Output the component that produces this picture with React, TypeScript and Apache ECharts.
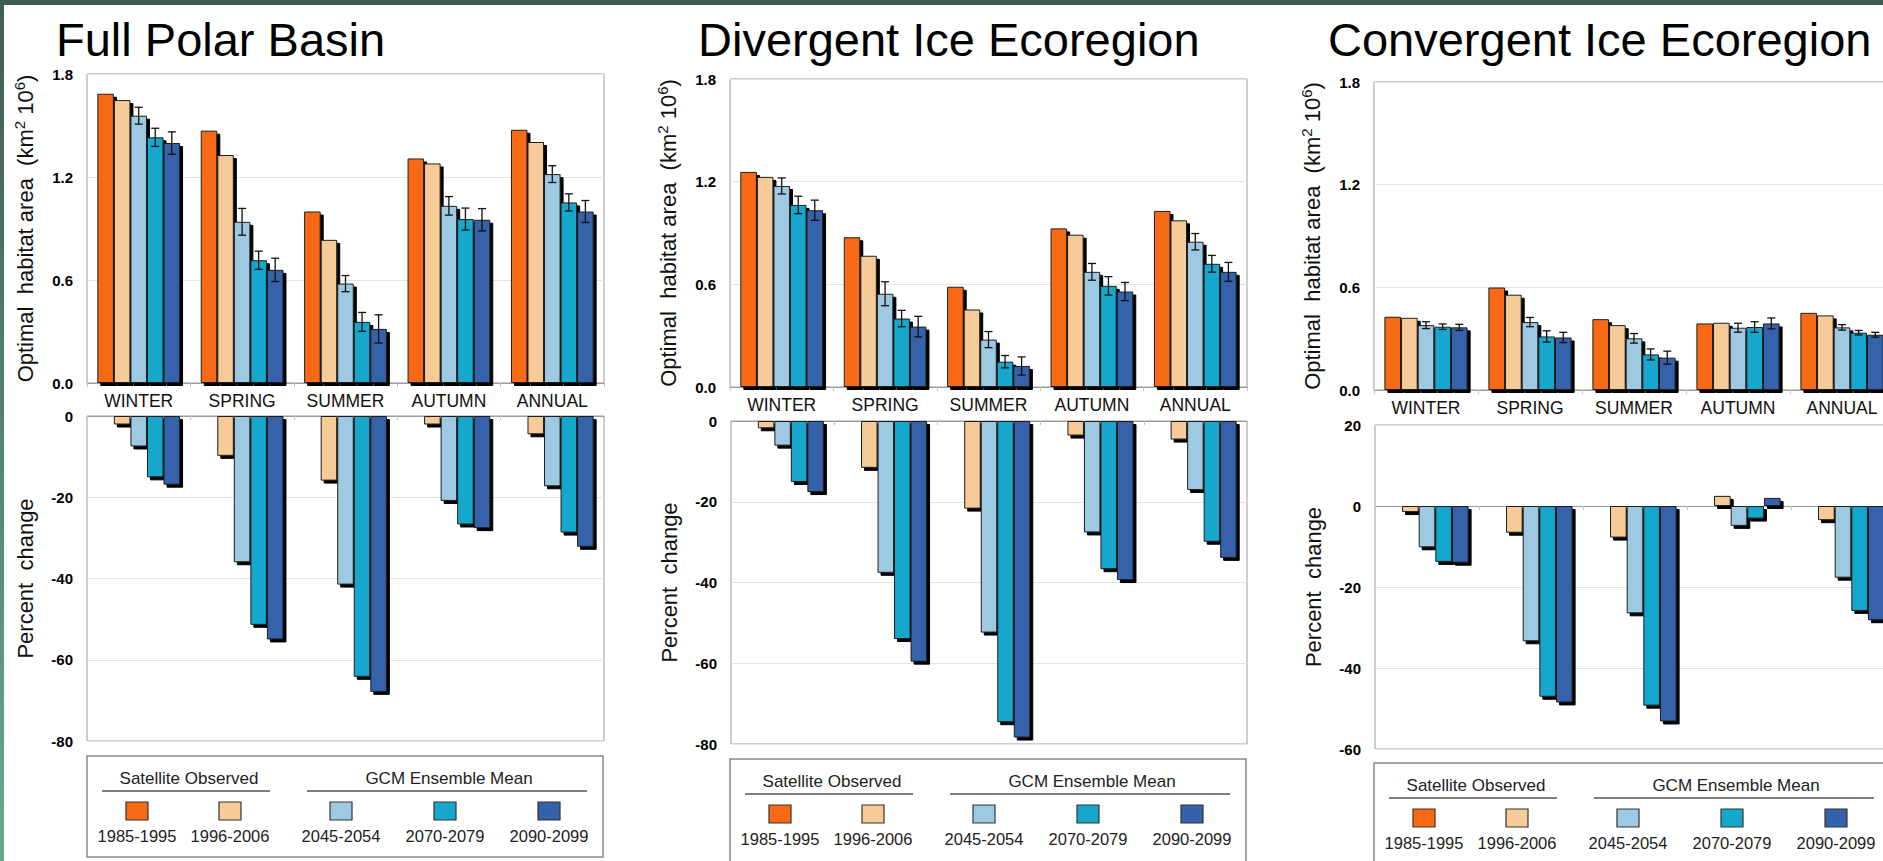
import React, { useEffect, useRef } from 'react';
import * as echarts from 'echarts';

const FONT = '"Liberation Sans", Arial, Helvetica, sans-serif';

const categories = ['WINTER', 'SPRING', 'SUMMER', 'AUTUMN', 'ANNUAL'];
const periods = ['1985-1995', '1996-2006', '2045-2054', '2070-2079', '2090-2099'];
const colors = ['#F96A12', '#F7CB98', '#9DCAE2', '#15A8CC', '#3462AA'];
const groupLabels = ['Satellite Observed', 'GCM Ensemble Mean'];
const titles = ['Full Polar Basin', 'Divergent Ice Ecoregion', 'Convergent Ice Ecoregion'];
const areaTicks = { min: 0, max: 1.8, interval: 0.6 };

// Full Polar Basin
const fpbArea = [
  [1.685, 1.470, 0.999, 1.308, 1.475],
  [1.648, 1.328, 0.834, 1.279, 1.404],
  [1.557, 0.939, 0.579, 1.032, 1.217],
  [1.431, 0.715, 0.356, 0.955, 1.052],
  [1.398, 0.659, 0.315, 0.951, 0.999],
];
const fpbErr = [
  [0.049, 0.078, 0.047, 0.054, 0.049],
  [0.053, 0.053, 0.055, 0.064, 0.050],
  [0.065, 0.068, 0.082, 0.065, 0.064],
];
const fpbPct = [
  [0, 0, 0, 0, 0],
  [-2.1, -9.8, -15.9, -2.1, -4.5],
  [-7.5, -36.0, -41.5, -20.9, -17.3],
  [-15.1, -51.4, -64.2, -26.7, -28.7],
  [-16.9, -55.0, -67.9, -27.6, -32.2],
];

// Divergent Ice Ecoregion
const divArea = [
  [1.257, 0.875, 0.586, 0.927, 1.029],
  [1.228, 0.767, 0.453, 0.890, 0.974],
  [1.175, 0.545, 0.277, 0.673, 0.849],
  [1.064, 0.400, 0.148, 0.591, 0.720],
  [1.033, 0.353, 0.123, 0.558, 0.673],
];
const divErr = [
  [0.047, 0.070, 0.047, 0.049, 0.048],
  [0.051, 0.048, 0.036, 0.054, 0.049],
  [0.059, 0.060, 0.053, 0.053, 0.055],
];
const divPct = [
  [0, 0, 0, 0, 0],
  [-1.8, -11.6, -21.7, -3.6, -4.6],
  [-6.1, -37.6, -52.4, -27.6, -17.1],
  [-15.1, -54.0, -74.6, -36.7, -29.9],
  [-17.6, -59.6, -78.4, -39.4, -33.9],
];

// Convergent Ice Ecoregion
const convArea = [
  [0.428, 0.599, 0.414, 0.389, 0.451],
  [0.422, 0.557, 0.379, 0.393, 0.436],
  [0.379, 0.397, 0.302, 0.364, 0.366],
  [0.370, 0.313, 0.208, 0.368, 0.335],
  [0.366, 0.307, 0.189, 0.389, 0.323],
];
const convErr = [
  [0.020, 0.027, 0.028, 0.026, 0.016],
  [0.016, 0.033, 0.032, 0.031, 0.013],
  [0.018, 0.030, 0.038, 0.032, 0.014],
];
const convPct = [
  [0, 0, 0, 0, 0],
  [-1.5, -6.6, -7.8, 2.5, -3.5],
  [-10.2, -33.4, -26.5, -4.9, -17.7],
  [-13.8, -47.1, -49.3, -3.1, -25.9],
  [-14.0, -48.5, -53.2, 2.0, -28.2],
];

const pctTicks = [
  { min: -80, max: 0, interval: 20 },
  { min: -80, max: 0, interval: 20 },
  { min: -60, max: 20, interval: 20 },
];

const panelData = [
  { area: fpbArea, err: fpbErr, pct: fpbPct },
  { area: divArea, err: divErr, pct: divPct },
  { area: convArea, err: convErr, pct: convPct },
];

// layout (pixels)
const layout = [
  { titleX: 56, top: [87, 74, 517, 309], bot: [87, 416, 517, 325], legend: [87, 756, 516, 101] },
  { titleX: 698, top: [730, 79, 517, 308], bot: [731, 421, 516, 323], legend: [730, 759, 516, 130] },
  { titleX: 1328, top: [1374, 82, 520, 308], bot: [1375, 425, 520, 324], legend: [1374, 763, 540, 130] },
];

function buildOption() {
  const grid: any[] = [];
  const xAxis: any[] = [];
  const yAxis: any[] = [];
  const series: any[] = [];
  const graphic: any[] = [];

  const nameRich = {
    a: { fontSize: 22, fontFamily: FONT, color: '#111', lineHeight: 26 },
    s: { fontSize: 15, fontFamily: FONT, color: '#111', lineHeight: 14, verticalAlign: 'top' },
  };

  layout.forEach((lay, p) => {
    const d = panelData[p];
    [lay.top, lay.bot].forEach((r, k) => {
      grid.push({
        left: r[0], top: r[1], width: r[2], height: r[3],
        show: true, borderColor: '#9c9c9c', borderWidth: 1, backgroundColor: '#fff',
        containLabel: false, outerBoundsMode: 'none',
      });
      const gi = p * 2 + k;
      xAxis.push({
        type: 'category', gridIndex: gi, data: categories,
        axisLine: { show: true, onZero: true, lineStyle: { color: '#9c9c9c', width: 1 } },
        axisTick: { show: true, length: 4, lineStyle: { color: '#c4c4c4' } },
        axisLabel: { show: k === 0, fontSize: 17.5, color: '#111', fontFamily: FONT, margin: 9, interval: 0 },
        splitLine: { show: false },
      });
      const t = k === 0 ? areaTicks : pctTicks[p];
      yAxis.push({
        type: 'value', gridIndex: gi, min: t.min, max: t.max, interval: t.interval,
        axisLine: { show: false }, axisTick: { show: false },
        axisLabel: {
          fontSize: 15, fontWeight: 'bold', color: '#000', fontFamily: FONT, margin: 14,
          formatter: (v: number) => (k === 0 ? v.toFixed(1) : String(v)),
        },
        splitLine: { show: true, lineStyle: { color: '#e4e4e4', width: 1 } },
        name: k === 0 ? '{a|Optimal  habitat area  (km}{s|2}{a| 10}{s|6}{a|)}' : '{a|Percent  change}',
        nameLocation: 'middle', nameRotate: 90, nameGap: 49,
        nameTextStyle: { rich: nameRich },
        nameMoveOverlap: false,
      });
      const vals = k === 0 ? d.area : d.pct;
      vals.forEach((row, s) => {
        series.push({
          type: 'bar', xAxisIndex: gi, yAxisIndex: gi, name: periods[s], data: row,
          barGap: '0%', barCategoryGap: '20%', silent: true,
          itemStyle: {
            color: colors[s], borderColor: '#1e1e1e', borderWidth: 1,
            shadowColor: '#000', shadowOffsetX: 3, shadowOffsetY: 3, shadowBlur: 0,
          },
        });
      });
      if (k === 0) {
        const errData: number[][] = [];
        d.err.forEach((row, j) => {
          row.forEach((e, c) => {
            errData.push([c, d.area[j + 2][c], e, j + 2]);
          });
        });
        series.push({
          type: 'custom', xAxisIndex: gi, yAxisIndex: gi, data: errData,
          encode: { x: 0, y: 1 }, z: 10, silent: true, clip: false,
          renderItem: (params: any, api: any) => {
            const c = api.value(0);
            const v = api.value(1);
            const e = api.value(2);
            const s = api.value(3);
            const mid = api.coord([c, v]);
            const hi = api.coord([c, v + e]);
            const lo = api.coord([c, v - e]);
            const band = api.size([1, 0])[0];
            const bw = (band * 0.8) / 5;
            const x = mid[0] + (s - 2) * bw;
            const cap = 4;
            const st = { stroke: '#111', lineWidth: 1.3 };
            return {
              type: 'group',
              children: [
                { type: 'line', shape: { x1: x, y1: hi[1], x2: x, y2: lo[1] }, style: st },
                { type: 'line', shape: { x1: x - cap, y1: hi[1], x2: x + cap, y2: hi[1] }, style: st },
                { type: 'line', shape: { x1: x - cap, y1: lo[1], x2: x + cap, y2: lo[1] }, style: st },
              ],
            };
          },
        });
      }
    });

    // title
    graphic.push({
      type: 'text', x: lay.titleX, y: 39, silent: true,
      style: { text: titles[p], fontSize: 47, fontFamily: FONT, fill: '#000', align: 'left', verticalAlign: 'middle' },
    });

    // legend
    const [L, T, W, H] = lay.legend;
    const children: any[] = [];
    children.push({ type: 'rect', shape: { x: L, y: T, width: W, height: H }, style: { fill: '#fff', stroke: '#8a8a8a', lineWidth: 1.5 } });
    children.push({ type: 'text', x: L + 102, y: T + 22, style: { text: groupLabels[0], fontSize: 17, fontFamily: FONT, fill: '#222', align: 'center', verticalAlign: 'middle' } });
    children.push({ type: 'text', x: L + 362, y: T + 22, style: { text: groupLabels[1], fontSize: 17, fontFamily: FONT, fill: '#222', align: 'center', verticalAlign: 'middle' } });
    children.push({ type: 'line', shape: { x1: L + 15, y1: T + 35, x2: L + 183, y2: T + 35 }, style: { stroke: '#555', lineWidth: 1.5 } });
    children.push({ type: 'line', shape: { x1: L + 220, y1: T + 35, x2: L + 500, y2: T + 35 }, style: { stroke: '#555', lineWidth: 1.5 } });
    const cx = [50, 143, 254, 358, 462];
    periods.forEach((lab, s) => {
      children.push({ type: 'rect', shape: { x: L + cx[s] - 11, y: T + 46, width: 22, height: 18 }, style: { fill: colors[s], stroke: '#333', lineWidth: 1.2 } });
      children.push({ type: 'text', x: L + cx[s], y: T + 80, style: { text: lab, fontSize: 16.5, fontFamily: FONT, fill: '#222', align: 'center', verticalAlign: 'middle' } });
    });
    graphic.push({ type: 'group', silent: true, children });
  });

  // frame
  graphic.push({ type: 'rect', silent: true, z: 100, shape: { x: 0, y: 0, width: 1920, height: 5 }, style: { fill: '#3e5f52' } });
  graphic.push({
    type: 'rect', silent: true, z: 100, shape: { x: 0, y: 0, width: 4, height: 861 },
    style: { fill: new echarts.graphic.LinearGradient(0, 0, 0, 1, [{ offset: 0, color: '#3d5e50' }, { offset: 1, color: '#6aa98c' }]) },
  });

  return { animation: false, backgroundColor: '#fff', grid, xAxis, yAxis, series, graphic };
}

export default function App() {
  const ref = useRef<HTMLDivElement>(null);
  useEffect(() => {
    if (!ref.current) return;
    const chart = echarts.init(ref.current, undefined, { renderer: 'svg' });
    chart.setOption(buildOption() as any);
    return () => chart.dispose();
  }, []);
  return (
    <div style={{ position: 'fixed', left: 0, top: 0, width: 1883, height: 861, overflow: 'hidden', background: '#fff' }}>
      <div ref={ref} style={{ width: 1920, height: 861 }} />
    </div>
  );
}
